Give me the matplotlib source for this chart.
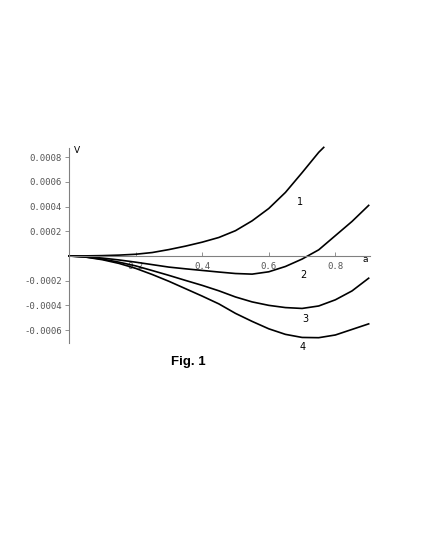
import matplotlib
matplotlib.use("Agg")
import matplotlib.pyplot as plt

# Values
a_vals = [0, 0.05, 0.1, 0.15, 0.2, 0.25, 0.3, 0.35, 0.4, 0.45,
          0.5, 0.55, 0.6, 0.65, 0.7, 0.75, 0.8, 0.85, 0.9]

v_curve1 = [0, 0.000001, 0.000003, 0.000007, 0.000014, 0.000028, 0.000052, 0.00008,
            0.000112, 0.00015, 0.000205, 0.000285, 0.000385, 0.000515, 0.000675, 0.00084]
v_curve2 = [0, -0.000005, -0.000017, -0.000032, -0.00005, -0.00007, -0.00009, -0.000104,
            -0.000117, -0.00013, -0.000142, -0.000147, -0.000128, -0.000085, -0.000025,
            0.00005, 0.000165, 0.00028, 0.00041]
v_curve3 = [0, -0.000008, -0.000025, -0.00005, -0.00008, -0.000118, -0.000157, -0.000198,
            -0.000238, -0.000282, -0.000332, -0.000372, -0.0004, -0.000418, -0.000425,
            -0.000405, -0.000355, -0.000283, -0.00018]
v_curve4 = [0, -0.000009, -0.00003, -0.00006, -0.0001, -0.00015, -0.000205, -0.000265,
            -0.000325, -0.000388, -0.000465, -0.00053, -0.00059, -0.000635, -0.00066,
            -0.000662, -0.00064, -0.000595, -0.00055]
# curve 1 ends a little past 0.75 at the top of the axis
end1_a = 0.765
end1_v = 0.00088

curve_labels = ["1", "2", "3", "4"]
label_a = [0.694, 0.703, 0.709, 0.703]
label_v = [0.00044, -0.00015, -0.00051, -0.000735]

x_ticks = [0.2, 0.4, 0.6, 0.8]
y_ticks = [-0.0006, -0.0004, -0.0002, 0.0002, 0.0004, 0.0006, 0.0008]

fig = plt.figure(figsize=(4.25, 5.5), dpi=100)
ax = fig.add_axes([69 / 425, 1 - 343 / 550, (370 - 69) / 425, (343 - 148) / 550])

ax.plot(a_vals[:len(v_curve1)] + [end1_a], v_curve1 + [end1_v], color="black", lw=1.2, clip_on=False)
ax.plot(a_vals, v_curve2, color="black", lw=1.2, clip_on=False)
ax.plot(a_vals, v_curve3, color="black", lw=1.2, clip_on=False)
ax.plot(a_vals, v_curve4, color="black", lw=1.2, clip_on=False)

for lab, xa, yv in zip(curve_labels, label_a, label_v):
    ax.text(xa, yv, lab, fontsize=7, ha="center", va="center", family="DejaVu Sans")

ax.set_xlim(0, 0.904)
ax.set_ylim(-0.000705, 0.000875)

# Mathematica-like axes crossing at the origin
ax.spines["top"].set_visible(False)
ax.spines["right"].set_visible(False)
ax.spines["bottom"].set_position(("data", 0))
ax.spines["left"].set_position(("data", 0))
for sp in ["bottom", "left"]:
    ax.spines[sp].set_color("#808080")
    ax.spines[sp].set_linewidth(0.8)

ax.set_xticks(x_ticks)
ax.set_xticklabels(["%.1f" % t for t in x_ticks])
ax.set_yticks(y_ticks)
ax.set_yticklabels(["%.4f" % t for t in y_ticks])
ax.tick_params(axis="x", direction="in", length=3, width=0.6, color="#808080",
               labelsize=6.5, labelcolor="#555555", pad=4)
ax.tick_params(axis="y", direction="out", length=3, width=0.6, color="#808080",
               labelsize=6.5, labelcolor="#555555", pad=2)
for lbl in ax.get_xticklabels() + ax.get_yticklabels():
    lbl.set_family("DejaVu Sans Mono")

ax.text(0.015, 0.000855, "V", fontsize=6.5, ha="left", va="center", family="DejaVu Sans")
ax.text(0.89, -0.00003, "a", fontsize=6.5, ha="center", va="center", family="DejaVu Sans")

fig.text(188 / 425, 1 - 362 / 550, "Fig. 1", fontsize=9.5, fontweight="bold",
         ha="center", va="center", family="Liberation Sans")

fig.savefig("out.png", dpi=100)
